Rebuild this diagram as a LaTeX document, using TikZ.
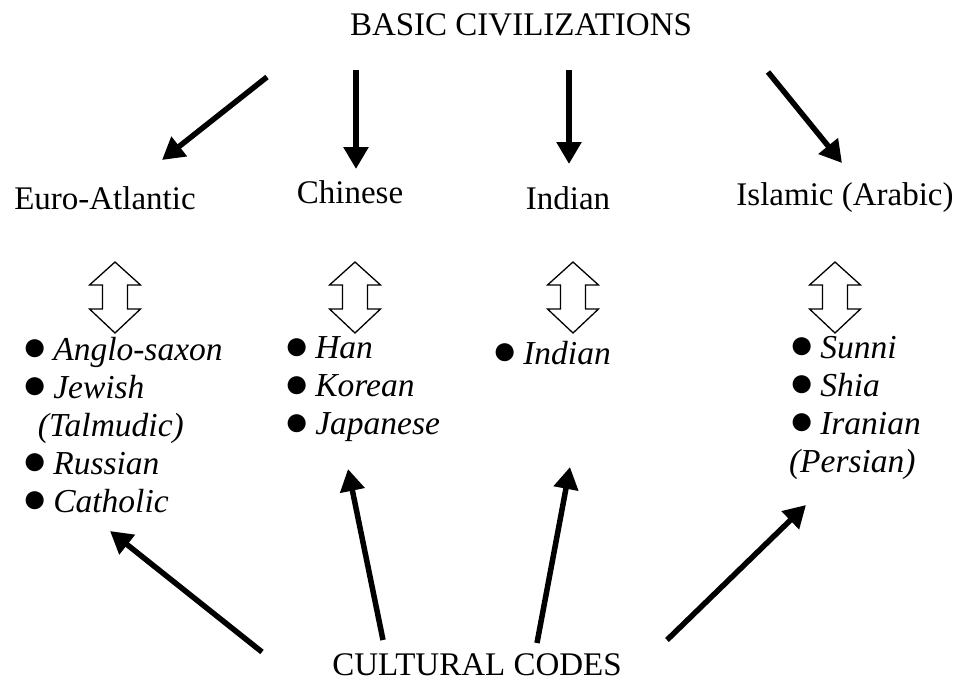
\documentclass[tikz,border=0pt]{standalone}
\usepackage{fontspec}
\setmainfont{Liberation Serif}
\usetikzlibrary{arrows.meta}
% list bullet, a little heavier than the font's own
\newcommand{\blt}{\raisebox{-0.5pt}{\scalebox{1.25}{\upshape ●}}\hspace{6pt}}
\begin{document}
\begin{tikzpicture}[x=1pt,y=-1pt,
  every node/.style={inner sep=0pt, outer sep=0pt},
  lbl/.style={font=\fontsize{33}{38}\selectfont},
  lst/.style={font=\fontsize{33.5}{38}\selectfont\itshape, align=left, anchor=north west},
  bigarrow/.style={line width=5.5pt, -{Triangle[length=22pt,width=24pt]}},
  twoway/.style={draw=black, line width=1.3pt, fill=white, line join=miter}
]
\useasboundingbox (0,0) rectangle (959,686);

% headings
\node[lbl] (basic) at (521,25) {BASIC CIVILIZATIONS};
\node[lbl] (euro)  at (105,198) {Euro-Atlantic};
\node[lbl] (chin)  at (350,192) {Chinese};
\node[lbl] (ind)   at (568,198) {Indian};
\node[lbl] (isl)   at (845,198) {Islamic (Arabic)};
\node[lbl] (codes) at (477,665) {CULTURAL CODES};

% lists of cultural codes
\node[lst] (eurolist) at (22,337) {\blt Anglo-saxon\\\blt Jewish\\\hspace{16pt}(Talmudic)\\\blt Russian\\\blt Catholic};
\node[lst] (chinlist) at (284,337) {\blt Han\\\blt Korean\\\blt Japanese};
\node[lst] (indlist)  at (492,341) {\blt Indian};
\node[lst] (isllist)  at (789,336) {\blt Sunni\\\blt Shia\\\blt Iranian\\(Persian)};

% arrow end points
\coordinate (a1s) at (267,77);  \coordinate (a1e) at (162,160);
\coordinate (a2s) at (356,70);  \coordinate (a2e) at (356,169);
\coordinate (a3s) at (569,70);  \coordinate (a3e) at (569,164);
\coordinate (a4s) at (768,72);  \coordinate (a4e) at (842,163);
\coordinate (b1s) at (262,652); \coordinate (b1e) at (110,531);
\coordinate (b2s) at (383,640); \coordinate (b2e) at (348,469);
\coordinate (b3s) at (537,643); \coordinate (b3e) at (570,467);
\coordinate (b4s) at (667,640); \coordinate (b4e) at (806,505);

\foreach \s in {a1,a2,a3,a4,b1,b2,b3,b4}
  \draw[bigarrow] (\s s) -- (\s e);

% hollow two-way arrows
\foreach \cx/\nm in {115/d1,355/d2,573/d3,835/d4}{
  \coordinate (\nm) at (\cx,297.5);
  \draw[twoway] (\nm) ++(0,-35.5) -- ++(25.5,23) -- ++(-13,0) -- ++(0,24)
     -- ++(13,0) -- ++(-25.5,24) -- ++(-25.5,-24) -- ++(13,0) -- ++(0,-24)
     -- ++(-13,0) -- cycle;
}
\end{tikzpicture}
\end{document}
